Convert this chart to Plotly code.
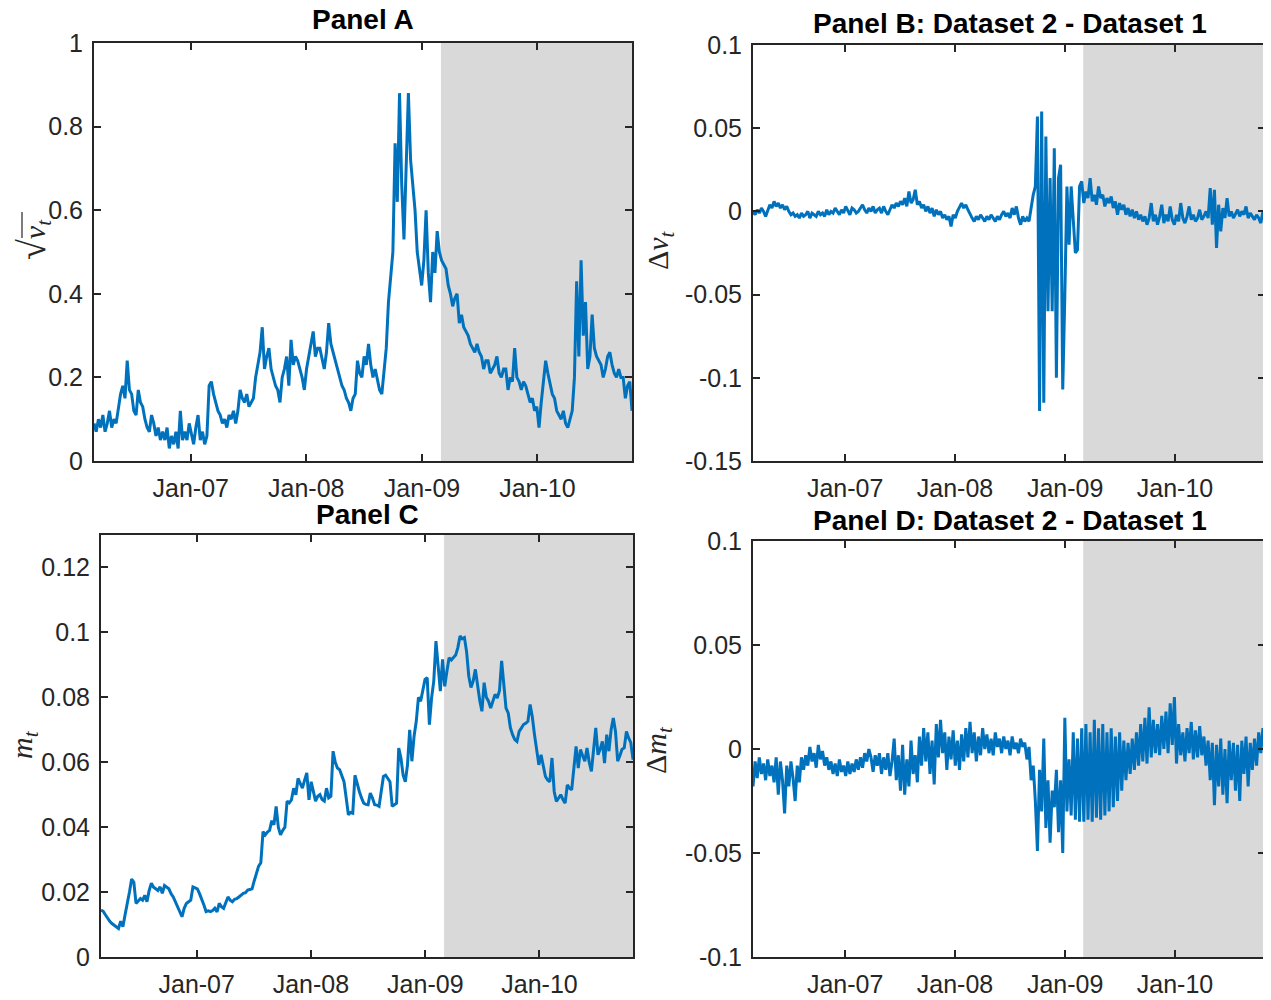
import pandas as pd
import plotly.graph_objects as go
from plotly.subplots import make_subplots

START = "2006-03-01"
END = "2010-10-27"
SHADE_START = "2009-03-02"

YEAR_TICKS = ["2007-01-01", "2008-01-01", "2009-01-01", "2010-01-01"]
YEAR_LABELS = ["Jan-07", "Jan-08", "Jan-09", "Jan-10"]

# weekly readings, Panel A: sqrt(v_t)
sqrt_v = [
    0.09, 0.07, 0.10, 0.08, 0.11, 0.07, 0.09, 0.12, 0.08, 0.10,
    0.09, 0.13, 0.16, 0.18, 0.15, 0.24, 0.17, 0.16, 0.12, 0.11,
    0.17, 0.14, 0.13, 0.10, 0.08, 0.07, 0.11, 0.09, 0.06, 0.08,
    0.05, 0.07, 0.05, 0.08, 0.03, 0.06, 0.04, 0.07, 0.03, 0.12,
    0.05, 0.07, 0.05, 0.09, 0.06, 0.04, 0.08, 0.11, 0.05, 0.07,
    0.04, 0.06, 0.18, 0.19, 0.16, 0.14, 0.12, 0.11, 0.09, 0.10,
    0.08, 0.11, 0.10, 0.12, 0.09, 0.12, 0.17, 0.15, 0.14, 0.16,
    0.13, 0.14, 0.15, 0.20, 0.23, 0.26, 0.32, 0.22, 0.25, 0.27,
    0.22, 0.20, 0.18, 0.17, 0.14, 0.20, 0.22, 0.25, 0.18, 0.29,
    0.23, 0.25, 0.24, 0.22, 0.20, 0.17, 0.22, 0.25, 0.28, 0.31,
    0.25, 0.27, 0.27, 0.24, 0.22, 0.26, 0.33, 0.28, 0.26, 0.24,
    0.22, 0.20, 0.18, 0.17, 0.15, 0.14, 0.12, 0.15, 0.16, 0.24,
    0.21, 0.20, 0.25, 0.23, 0.28, 0.23, 0.20, 0.22, 0.19, 0.17,
    0.16, 0.22, 0.27, 0.38, 0.45, 0.50, 0.76, 0.62, 0.88, 0.66,
    0.53, 0.70, 0.88, 0.72, 0.66, 0.60, 0.50, 0.46, 0.42, 0.48,
    0.60, 0.45, 0.38, 0.50, 0.45, 0.55, 0.50, 0.48, 0.47, 0.46,
    0.42, 0.40, 0.37, 0.39, 0.40, 0.33, 0.35, 0.32, 0.31, 0.30,
    0.28, 0.27, 0.26, 0.28, 0.26, 0.25, 0.22, 0.24, 0.24, 0.21,
    0.22, 0.23, 0.25, 0.21, 0.20, 0.22, 0.22, 0.17, 0.20, 0.19,
    0.27, 0.20, 0.19, 0.17, 0.19, 0.18, 0.16, 0.14, 0.15, 0.12,
    0.13, 0.08, 0.14, 0.20, 0.24, 0.21, 0.18, 0.16, 0.15, 0.12,
    0.11, 0.10, 0.12, 0.09, 0.08, 0.10, 0.12, 0.20, 0.43, 0.25,
    0.48, 0.30, 0.38, 0.22, 0.25, 0.35, 0.27, 0.25, 0.24, 0.23,
    0.20, 0.22, 0.25, 0.26, 0.23, 0.21, 0.20, 0.22, 0.20, 0.20,
    0.15, 0.18, 0.19, 0.12,
]

# Panel B: delta v_t
delta_v = [
    0.000, -0.002, 0.001, -0.001, 0.002, 0.000, -0.003, 0.001, 0.004, 0.002,
    0.006, 0.003, 0.005, 0.002, 0.004, 0.001, 0.003, 0.000, -0.002, -0.001,
    -0.003, -0.002, -0.004, -0.001, -0.003, -0.002, 0.000, -0.004, -0.001, -0.002,
    -0.003, 0.000, -0.002, -0.001, -0.003, 0.001, -0.002, 0.000, -0.001, 0.002,
    0.000, -0.002, 0.001, -0.001, 0.003, 0.000, -0.002, 0.002, 0.001, -0.001,
    0.000, 0.002, 0.004, 0.001, -0.001, 0.002, 0.000, 0.003, -0.001, 0.001,
    0.002, -0.001, 0.003, 0.000, -0.002, 0.001, 0.004, 0.002, 0.005, 0.003,
    0.006, 0.004, 0.008, 0.003, 0.012, 0.005, 0.007, 0.013, 0.004, 0.006,
    0.002, 0.004, 0.000, 0.003, -0.001, 0.002, -0.003, 0.001, -0.002, 0.000,
    -0.004, -0.002, -0.005, -0.003, -0.009, -0.002, -0.004, 0.000, 0.003, 0.005,
    0.002, 0.004, 0.001, -0.002, -0.004, -0.006, -0.003, -0.005, -0.002, -0.004,
    -0.006, -0.003, -0.005, -0.002, -0.004, -0.006, -0.003, -0.005, -0.002, 0.000,
    -0.003, -0.001, -0.004, 0.002, -0.002, 0.003, -0.004, -0.008, -0.003, -0.006,
    -0.004, -0.006, 0.002, 0.010, 0.015, 0.057, -0.120, 0.060, -0.115, 0.045,
    -0.060, 0.020, -0.060, 0.038, -0.100, 0.020, 0.028, -0.107, -0.050, 0.015,
    -0.020, 0.015, -0.005, -0.025, -0.023, 0.015, 0.018, 0.005, 0.012, 0.008,
    0.020, 0.006, 0.010, 0.004, 0.015, 0.008, 0.010, 0.003, 0.008, 0.005,
    0.009, 0.002, 0.006, -0.002, 0.005, 0.001, 0.004, -0.002, 0.002, -0.003,
    0.001, -0.004, 0.000, -0.005, -0.002, -0.006, -0.003, -0.008, -0.004, 0.005,
    -0.006, -0.002, -0.008, -0.003, 0.004, -0.007, -0.002, -0.006, 0.003, -0.005,
    -0.008, -0.002, -0.006, 0.005, -0.004, -0.007, -0.003, 0.003, -0.005, -0.002,
    -0.006, -0.004, 0.001, -0.005, -0.003, 0.000, -0.004, 0.014, -0.008, 0.013,
    -0.022, 0.004, -0.012, 0.002, -0.004, 0.008, -0.003, 0.000, -0.004, -0.001,
    0.001, -0.003, 0.000, -0.002, 0.003, -0.004, -0.001, -0.003, -0.005, -0.002,
    -0.004, -0.007, 0.000, -0.005,
]

# Panel C: m_t
m_t = [
    0.0145, 0.0141, 0.0130, 0.0118, 0.0110, 0.0103, 0.0097, 0.0092, 0.0088, 0.0110,
    0.0093, 0.0130, 0.0160, 0.0200, 0.0240, 0.0230, 0.0165, 0.0172, 0.0180, 0.0175,
    0.0190, 0.0170, 0.0205, 0.0227, 0.0215, 0.0210, 0.0205, 0.0216, 0.0196, 0.0220,
    0.0215, 0.0210, 0.0195, 0.0185, 0.0170, 0.0155, 0.0140, 0.0124, 0.0150, 0.0165,
    0.0170, 0.0175, 0.0216, 0.0214, 0.0210, 0.0195, 0.0180, 0.0160, 0.0140, 0.0142,
    0.0140, 0.0143, 0.0150, 0.0139, 0.0165, 0.0155, 0.0150, 0.0170, 0.0185, 0.0175,
    0.0170, 0.0178, 0.0180, 0.0185, 0.0190, 0.0196, 0.0198, 0.0206, 0.0208, 0.0210,
    0.0235, 0.0260, 0.0280, 0.0290, 0.0386, 0.0376, 0.0385, 0.0390, 0.0420, 0.0407,
    0.0464, 0.0400, 0.0376, 0.0390, 0.0400, 0.0480, 0.0475, 0.0484, 0.0520, 0.0500,
    0.0550, 0.0535, 0.0520, 0.0545, 0.0567, 0.0484, 0.0540, 0.0510, 0.0480, 0.0495,
    0.0500, 0.0485, 0.0480, 0.0520, 0.0490, 0.0495, 0.0634, 0.0600, 0.0582, 0.0577,
    0.0560, 0.0540, 0.0490, 0.0438, 0.0445, 0.0443, 0.0560, 0.0530, 0.0510, 0.0490,
    0.0474, 0.0470, 0.0469, 0.0505, 0.0490, 0.0469, 0.0468, 0.0464, 0.0510, 0.0556,
    0.0560, 0.0550, 0.0540, 0.0464, 0.0470, 0.0474, 0.0644, 0.0613, 0.0560, 0.0540,
    0.0592, 0.0700, 0.0603, 0.0680, 0.0726, 0.0800, 0.0788, 0.0820, 0.0855, 0.0860,
    0.0716, 0.0798, 0.0850, 0.0973, 0.0900, 0.0819, 0.0917, 0.0834, 0.0880, 0.0922,
    0.0915, 0.0922, 0.0930, 0.0953, 0.0989, 0.0980, 0.0984, 0.0940, 0.0865, 0.0830,
    0.0850, 0.0886, 0.0834, 0.0790, 0.0757, 0.0845, 0.0800, 0.0788, 0.0767, 0.0790,
    0.0809, 0.0798, 0.0820, 0.0912, 0.0850, 0.0767, 0.0752, 0.0706, 0.0685, 0.0670,
    0.0664, 0.0695, 0.0705, 0.0716, 0.0720, 0.0726, 0.0778, 0.0740, 0.0685, 0.0630,
    0.0592, 0.0623, 0.0590, 0.0556, 0.0545, 0.0540, 0.0613, 0.0510, 0.0479, 0.0490,
    0.0500, 0.0485, 0.0474, 0.0530, 0.0520, 0.0515, 0.0580, 0.0649, 0.0582, 0.0639,
    0.0620, 0.0603, 0.0644, 0.0600, 0.0572, 0.0650, 0.0706, 0.0623, 0.0640, 0.0664,
    0.0597, 0.0685, 0.0634, 0.0700, 0.0736, 0.0695, 0.0603, 0.0620, 0.0640, 0.0644,
    0.0695, 0.0675, 0.0660, 0.0608,
]

# Panel D: delta m_t
delta_m = [
    -0.018, -0.006, -0.014, -0.004, -0.012, -0.007, -0.015, -0.005, -0.013, -0.008,
    -0.016, -0.004, -0.022, -0.006, -0.015, -0.031, -0.008, -0.018, -0.006, -0.014,
    -0.025, -0.008, -0.016, -0.004, -0.010, -0.003, -0.008, 0.001, -0.006, -0.002,
    -0.009, 0.002, -0.005, -0.001, -0.008, -0.004, -0.010, -0.006, -0.012, -0.007,
    -0.013, -0.005, -0.011, -0.008, -0.013, -0.006, -0.012, -0.007, -0.011, -0.005,
    -0.010, -0.004, -0.009, -0.002, -0.006, 0.000, -0.004, -0.011, -0.003, -0.008,
    -0.002, -0.012, -0.004, -0.010, -0.002, -0.013, -0.006, 0.005, -0.015, -0.003,
    -0.020, 0.002, -0.022, -0.005, -0.018, 0.004, -0.012, -0.003, -0.016, 0.006,
    -0.008, 0.010, -0.006, 0.008, -0.012, 0.004, -0.017, 0.012, -0.004, 0.014,
    -0.002, 0.008, -0.010, 0.006, -0.005, 0.009, -0.008, 0.004, -0.010, 0.007,
    -0.006, 0.010, -0.004, 0.013, -0.002, 0.008, -0.006, 0.006, -0.003, 0.010,
    0.000, 0.007, -0.002, 0.005, -0.003, 0.008, 0.001, 0.005, -0.002, 0.006,
    0.000, 0.004, -0.003, 0.006, 0.000, 0.003, -0.002, 0.005, 0.001, 0.003,
    -0.005, 0.001, -0.015, -0.008, -0.025, -0.049, -0.010, -0.030, 0.005, -0.038,
    -0.015, -0.045, -0.020, -0.028, -0.010, -0.040, -0.015, -0.050, 0.015, -0.030,
    -0.005, -0.032, 0.008, -0.034, 0.005, -0.035, 0.010, -0.035, 0.012, -0.034,
    0.008, -0.035, 0.014, -0.033, 0.010, -0.034, 0.012, -0.032, 0.008, -0.030,
    0.010, -0.028, 0.006, -0.025, 0.008, -0.020, 0.004, -0.015, 0.003, -0.012,
    0.005, -0.010, 0.008, -0.008, 0.012, -0.006, 0.015, -0.007, 0.020, -0.004,
    0.014, -0.002, 0.012, -0.003, 0.016, 0.000, 0.018, -0.002, 0.022, 0.002,
    0.025, -0.007, 0.012, -0.003, 0.008, -0.006, 0.010, -0.002, 0.013, -0.005,
    0.009, -0.004, 0.011, -0.003, 0.006, -0.008, 0.004, -0.015, 0.003, -0.027,
    0.002, -0.018, 0.005, -0.022, 0.000, -0.026, 0.004, -0.015, 0.003, -0.020,
    0.002, -0.025, 0.004, -0.012, 0.006, -0.018, 0.003, -0.010, 0.005, -0.008,
    0.008, -0.002, 0.010, 0.005,
]

YTICKS_A = [0, 0.2, 0.4, 0.6, 0.8, 1]
YTICKS_B = [-0.15, -0.1, -0.05, 0, 0.05, 0.1]
YTICKS_C = [0, 0.02, 0.04, 0.06, 0.08, 0.1, 0.12]
YTICKS_D = [-0.1, -0.05, 0, 0.05, 0.1]

LINE_COLOR = "#0072BD"
AXIS_COLOR = "#262626"
SHADE_COLOR = "#D9D9D9"

# the page body adds an 8px margin, so the figure is a bit smaller than the window
OFF = 8
W, H = 1271 - OFF, 1000 - OFF


def px_x(v):
    return (v - OFF) / W


def px_y(v):
    return 1 - (v - OFF) / H


def tick_text(vals):
    return [("%g" % v) for v in vals]


dates = pd.date_range(START, periods=len(sqrt_v), freq="7D")

fig = make_subplots(rows=2, cols=2)

panels = [
    (1, 1, sqrt_v, [0, 1], YTICKS_A),
    (1, 2, delta_v, [-0.15, 0.1], YTICKS_B),
    (2, 1, m_t, [0, 0.13], YTICKS_C),
    (2, 2, delta_m, [-0.1, 0.1], YTICKS_D),
]

# window pixel boxes (left, right, top, bottom) for each axis
boxes = [(94, 632, 43, 461), (753, 1265, 45, 461), (101, 633, 535, 957), (753, 1265, 541, 957)]

for i, (r, c, series, yr, yt) in enumerate(panels):
    fig.add_trace(
        go.Scatter(x=dates, y=series, mode="lines", line=dict(color=LINE_COLOR, width=3), showlegend=False),
        row=r, col=c,
    )
    l, rt, t, b = boxes[i]
    common = dict(
        showline=True, linecolor=AXIS_COLOR, linewidth=2, mirror="ticks",
        ticks="inside", ticklen=7, tickwidth=2, tickcolor=AXIS_COLOR,
        showgrid=False, zeroline=False, automargin=False,
        tickfont=dict(family="Liberation Sans, Arial", size=25, color=AXIS_COLOR),
    )
    fig.update_xaxes(
        domain=[px_x(l), px_x(rt)], range=[START, END], type="date",
        tickvals=YEAR_TICKS, ticktext=YEAR_LABELS, ticklabelstandoff=4,
        row=r, col=c, **common,
    )
    fig.update_yaxes(
        domain=[px_y(b), px_y(t)], range=yr,
        tickvals=yt, ticktext=tick_text(yt), ticklabelstandoff=4,
        row=r, col=c, **common,
    )
    xref = "x" if i == 0 else "x%d" % (i + 1)
    yref = "y" if i == 0 else "y%d" % (i + 1)
    fig.add_shape(
        type="rect", xref=xref, yref=yref + " domain", x0=SHADE_START, x1=END, y0=0, y1=1,
        fillcolor=SHADE_COLOR, line=dict(width=0), layer="below",
    )

titles = [
    ("Panel A", 363, 20),
    ("Panel B: Dataset 2 - Dataset 1", 1010, 23),
    ("Panel C", 367, 514),
    ("Panel D: Dataset 2 - Dataset 1", 1010, 520),
]
for txt, px_, py_ in titles:
    fig.add_annotation(
        text="<b>%s</b>" % txt, x=px_x(px_), y=px_y(py_), xref="paper", yref="paper",
        showarrow=False, xanchor="center", yanchor="middle",
        font=dict(family="Liberation Sans, Arial", size=28, color="black"),
    )

ylabels = [
    ("<span style='font-size:38px'>√</span><i>v</i><sub><i>t</i></sub>", 33, 240),
    ("Δ<i>v</i><sub><i>t</i></sub>", 660, 250),
    ("<i>m</i><sub><i>t</i></sub>", 24, 745),
    ("Δ<i>m</i><sub><i>t</i></sub>", 658, 750),
]
for txt, px_, py_ in ylabels:
    fig.add_annotation(
        text=txt, x=px_x(px_), y=px_y(py_), xref="paper", yref="paper",
        showarrow=False, xanchor="center", yanchor="middle", textangle=-90,
        font=dict(family="Liberation Serif, Times New Roman", size=30, color=AXIS_COLOR),
    )

# vinculum of the square root on the Panel A label
fig.add_shape(
    type="line", xref="paper", yref="paper",
    x0=px_x(22), x1=px_x(22), y0=px_y(238), y1=px_y(212),
    line=dict(color=AXIS_COLOR, width=1.2),
)

fig.update_layout(
    width=W, height=H, autosize=False,
    margin=dict(l=0, r=0, t=0, b=0),
    paper_bgcolor="white", plot_bgcolor="white",
)

fig.write_html("out.html")
